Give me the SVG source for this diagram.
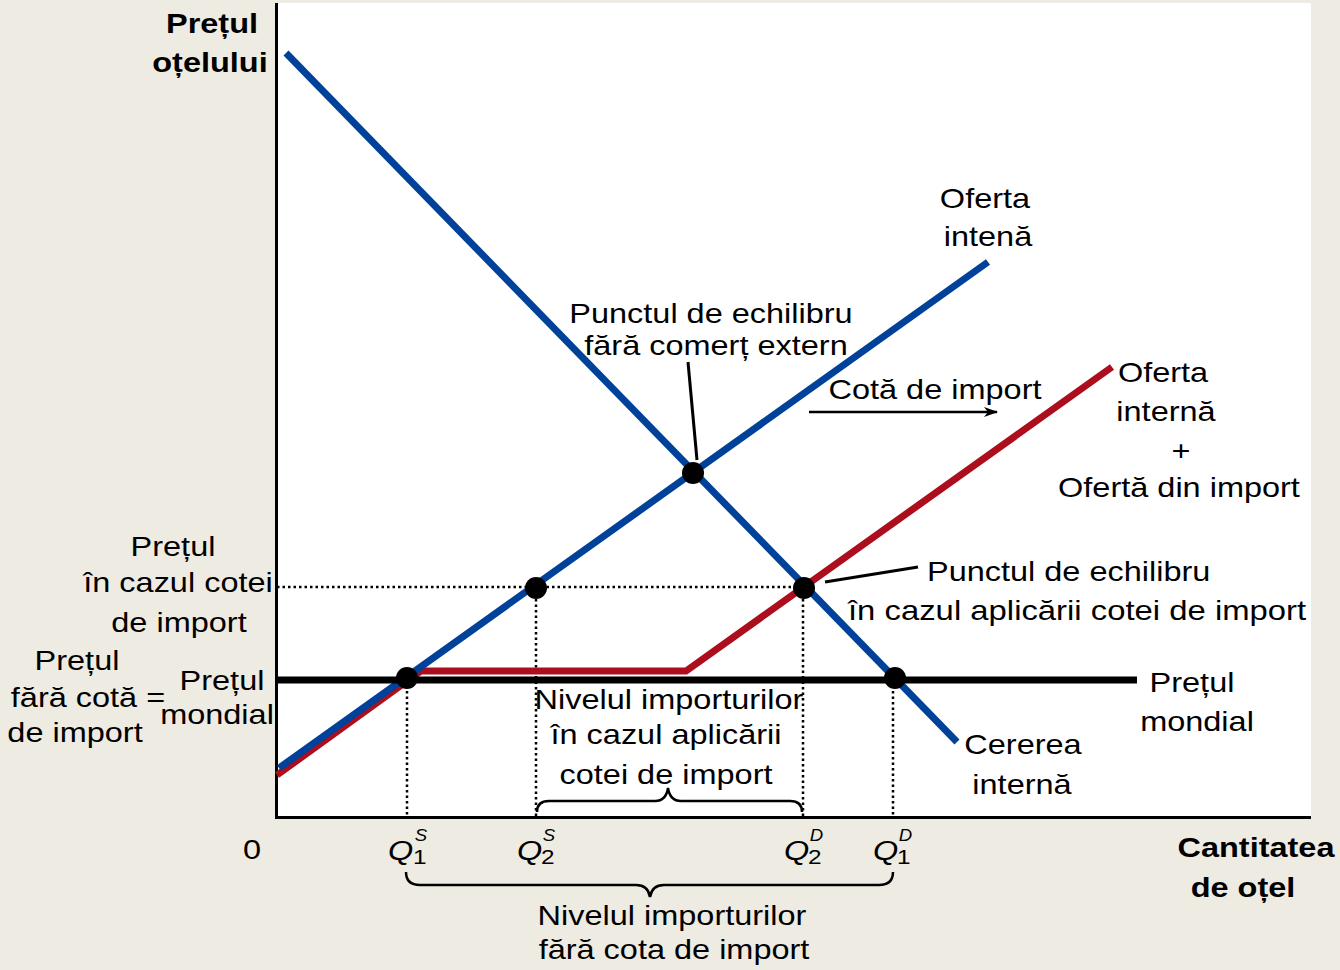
<svg xmlns="http://www.w3.org/2000/svg" width="1340" height="970" viewBox="0 0 1340 970">
<defs>
<style>
text{font-family:"Liberation Sans",Arial,sans-serif;font-size:28px;fill:#000}
.b{font-weight:bold}
.m{text-anchor:middle}
.i{font-style:italic}
.sub{font-size:21px}
.sup{font-size:16px;font-style:italic}
.blue{stroke:#00419A;stroke-width:7;fill:none}
.red{stroke:#AD0E1E;stroke-width:7;fill:none;stroke-linejoin:miter}
.dot{stroke:#000;stroke-width:2.5;stroke-dasharray:2.5 3;fill:none}
.lead{stroke:#000;stroke-width:3;fill:none}
.brace{stroke:#000;stroke-width:2.5;fill:none}
</style>
<marker id="arr" viewBox="0 0 14 10" refX="13" refY="5" markerWidth="14" markerHeight="10" markerUnits="userSpaceOnUse" orient="auto">
<path d="M0,0 L14,5 L0,10 L4,5 Z" fill="#000"/>
</marker>
</defs>
<rect width="1340" height="970" fill="#EEEBE3"/>
<rect x="277" y="3" width="1034" height="814" fill="#FFFFFF"/>
<g id="axes">
<line x1="276.5" y1="3" x2="276.5" y2="819" stroke="#000" stroke-width="3"/>
<line x1="275" y1="817.5" x2="1311" y2="817.5" stroke="#000" stroke-width="3"/>
</g>
<g id="connectors">
<line class="dot" x1="277" y1="587" x2="804" y2="587"/>
<line class="dot" x1="407" y1="680" x2="407" y2="816"/>
<line class="dot" x1="536" y1="588" x2="536" y2="816"/>
<line class="dot" x1="803" y1="588" x2="803" y2="816"/>
<line class="dot" x1="893" y1="680" x2="893" y2="816"/>
<polyline class="red" points="277,775 421,671 686,671 1112,367"/>
<line class="blue" x1="279" y1="768" x2="988" y2="262"/>
<line class="blue" x1="286" y1="53" x2="957" y2="742"/>
<line x1="277" y1="680" x2="1137" y2="680" stroke="#000" stroke-width="7"/>
<line class="lead" x1="688" y1="362" x2="697" y2="460"/>
<line class="lead" x1="825" y1="582" x2="918" y2="567"/>
<line x1="809" y1="412" x2="997" y2="412" stroke="#000" stroke-width="2.5" marker-end="url(#arr)"/>
<path class="brace" d="M537,812 Q537,801 549,801 L655,801 Q666,801 668,788 Q670,801 681,801 L790,801 Q802,801 802,812"/>
<path class="brace" d="M406,872 Q406,885 420,885 L636,885 Q648,885 650,897 Q652,885 664,885 L879,885 Q893,885 893,872"/>
</g>
<g id="points" fill="#000">
<circle cx="407" cy="678" r="11"/>
<circle cx="536" cy="588" r="11"/>
<circle cx="693" cy="473" r="11"/>
<circle cx="804" cy="588" r="11"/>
<circle cx="895" cy="678" r="11"/>
</g>
<g id="label-yaxis" transform="scale(1.16 1)">
<text class="b m" x="182.76" y="33">Prețul</text>
<text class="b m" x="181.03" y="72">oțelului</text>
</g>
<g id="label-xaxis" transform="scale(1.16 1)">
<text class="b m" x="1082.76" y="857">Cantitatea</text>
<text class="b m" x="1071.55" y="897">de oțel</text>
</g>
<g id="label-oferta-interna" transform="scale(1.16 1)">
<text class="m" x="849.14" y="208">Oferta</text>
<text class="m" x="851.72" y="246">intenă</text>
</g>
<g id="label-echilibru1" transform="scale(1.16 1)">
<text class="m" x="612.93" y="323">Punctul de echilibru</text>
<text class="m" x="617.24" y="355">fără comerț extern</text>
</g>
<g id="label-cota" transform="scale(1.16 1)">
<text class="m" x="806.03" y="399">Cotă de import</text>
</g>
<g id="label-oferta-import" transform="scale(1.16 1)">
<text class="m" x="1002.59" y="382">Oferta</text>
<text class="m" x="1005.17" y="421">internă</text>
<text class="m" x="1018.10" y="460">+</text>
<text class="m" x="1016.38" y="497">Ofertă din import</text>
</g>
<g id="label-echilibru2" transform="scale(1.16 1)">
<text x="799.14" y="581">Punctul de echilibru</text>
<text x="731.03" y="620" textLength="395" lengthAdjust="spacingAndGlyphs">în cazul aplicării cotei de import</text>
</g>
<g id="label-pret-cota" transform="scale(1.16 1)">
<text class="m" x="149.14" y="556">Prețul</text>
<text class="m" x="153.45" y="592">în cazul cotei</text>
<text class="m" x="154.31" y="632">de import</text>
</g>
<g id="label-pret-fara" transform="scale(1.16 1)">
<text class="m" x="66.38" y="670">Prețul</text>
<text class="m" x="75.86" y="707">fără cotă =</text>
<text class="m" x="64.66" y="742">de import</text>
<text class="m" x="191.38" y="690">Prețul</text>
<text class="m" x="187.07" y="724">mondial</text>
</g>
<g id="label-pret-mondial" transform="scale(1.16 1)">
<text class="m" x="1027.59" y="692">Prețul</text>
<text class="m" x="1031.90" y="731">mondial</text>
</g>
<g id="label-cerere" transform="scale(1.16 1)">
<text class="m" x="881.90" y="754">Cererea</text>
<text class="m" x="881.03" y="794">internă</text>
</g>
<g id="label-import-cota" transform="scale(1.16 1)">
<text class="m" x="576.72" y="709">Nivelul importurilor</text>
<text class="m" x="574.14" y="744">în cazul aplicării</text>
<text class="m" x="574.14" y="784">cotei de import</text>
</g>
<g id="label-q" transform="scale(1.16 1)">
<text class="m" x="217.24" y="859">0</text>
<text class="i" x="334.48" y="860">Q</text><text class="sub" x="356.03" y="864">1</text><text class="sup" x="357.5" y="841">S</text>
<text class="i" x="445.69" y="860">Q</text><text class="sub" x="466.38" y="864">2</text><text class="sup" x="467.8" y="841">S</text>
<text class="i" x="675.86" y="860">Q</text><text class="sub" x="696.55" y="864">2</text><text class="sup" x="698" y="841">D</text>
<text class="i" x="752.59" y="860">Q</text><text class="sub" x="773.28" y="864">1</text><text class="sup" x="774.7" y="841">D</text>
</g>
<g id="label-import-fara" transform="scale(1.16 1)">
<text class="m" x="579.31" y="925">Nivelul importurilor</text>
<text class="m" x="581.03" y="959">fără cota de import</text>
</g>
</svg>
